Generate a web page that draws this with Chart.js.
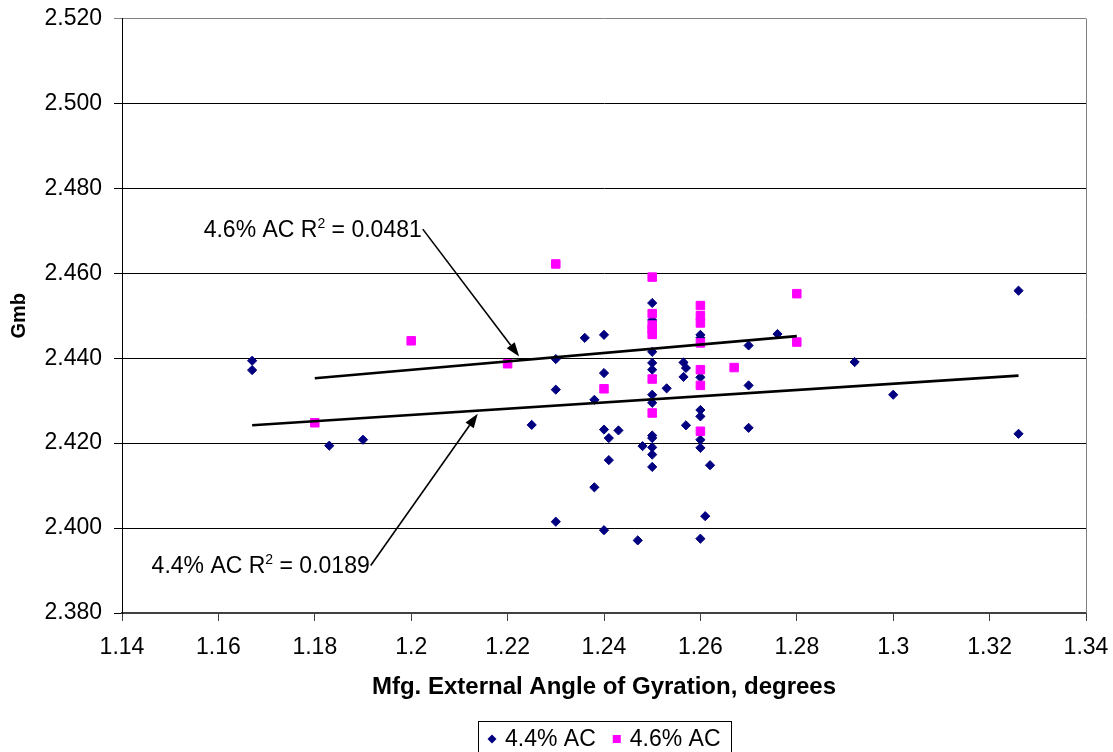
<!DOCTYPE html>
<html lang="en">
<head>
<meta charset="UTF-8">
<title>Gmb vs Mfg. External Angle of Gyration</title>
<script src="https://cdn.jsdelivr.net/npm/chart.js@4.4.1/dist/chart.umd.min.js"></script>
<style>
  html, body { margin: 0; padding: 0; background: #fff; }
</style>
</head>
<body>
<canvas id="chart" width="1113" height="752"></canvas>
<script>
// 4.4% AC specimens: external angle (deg) and Gmb
const angle44 = [1.167, 1.167, 1.183, 1.190, 1.225, 1.230, 1.230, 1.230, 1.236, 1.238,
                 1.238, 1.240, 1.240, 1.240, 1.240, 1.241, 1.241, 1.243, 1.247, 1.248,
                 1.250, 1.250, 1.250, 1.250, 1.250, 1.250, 1.250, 1.250, 1.250, 1.250,
                 1.250, 1.250, 1.253, 1.2565, 1.257, 1.2565, 1.257, 1.260, 1.260, 1.260,
                 1.260, 1.260, 1.260, 1.260, 1.260, 1.261, 1.262, 1.270, 1.270, 1.270,
                 1.276, 1.292, 1.300, 1.326, 1.326];
const gmb44 = [2.4394, 2.4372, 2.4194, 2.4208, 2.4243, 2.4398, 2.4326, 2.4015, 2.4448, 2.4302,
               2.4096, 2.4455, 2.4365, 2.4232, 2.3995, 2.4212, 2.4160, 2.4230, 2.3971, 2.4193,
               2.4530, 2.4490, 2.4415, 2.4389, 2.4373, 2.4314, 2.4295, 2.4218, 2.4212, 2.4190,
               2.4173, 2.4144, 2.4329, 2.4390, 2.4377, 2.4356, 2.4242, 2.4455, 2.4448, 2.4355,
               2.4278, 2.4263, 2.4208, 2.4189, 2.3975, 2.4028, 2.4148, 2.4430, 2.4336, 2.4236,
               2.4457, 2.4391, 2.4314, 2.4559, 2.4222];

// 4.6% AC specimens
const angle46 = [1.18, 1.20, 1.22, 1.23, 1.24, 1.25, 1.25, 1.25, 1.25, 1.25, 1.25,
                 1.25, 1.26, 1.26, 1.26, 1.26, 1.26, 1.26, 1.26, 1.267, 1.28, 1.28];
const gmb46 = [2.4248, 2.4441, 2.4387, 2.4622, 2.4328, 2.4591, 2.4505, 2.4478, 2.4468, 2.4456, 2.4351,
               2.4271, 2.4524, 2.4500, 2.4483, 2.4436, 2.4373, 2.4336, 2.4228, 2.4378, 2.4552, 2.4438];

// linear trend lines, end points
const trend44X = [1.167, 1.326];
const trend44Y = [2.4242, 2.4359];
const trend46X = [1.18, 1.28];
const trend46Y = [2.4353, 2.4452];

// R² callouts: label, value, arrow start and arrow tip (data units)
const noteNames = ['4.6% AC', '4.4% AC'];
const noteR2 = ['0.0481', '0.0189'];
const noteFromX = [1.2024, 1.1916];
const noteFromY = [2.4704, 2.3912];
const noteToX = [1.2224, 1.2138];
const noteToY = [2.4404, 2.4269];

const FONT = '"Liberation Sans", Arial, sans-serif';
Chart.defaults.font.family = FONT;
Chart.defaults.color = '#000';

const toPoints = (xs, ys) => xs.map((x, i) => ({ x: x, y: ys[i] }));

// grey right edge of the plot area
const plotFrame = {
    id: 'plotFrame',
    beforeDatasetsDraw(chart) {
        const { ctx, chartArea: a } = chart;
        ctx.save();
        ctx.strokeStyle = '#808080';
        ctx.lineWidth = 1;
        ctx.beginPath();
        ctx.moveTo(Math.round(a.right) + 0.5, a.top);
        ctx.lineTo(Math.round(a.right) + 0.5, a.bottom);
        ctx.stroke();
        ctx.restore();
    }
};

// arrows and "R²" labels
const notes = {
    id: 'notes',
    afterDatasetsDraw(chart) {
        const { ctx, scales: { x, y } } = chart;
        ctx.save();
        ctx.fillStyle = '#000';
        ctx.strokeStyle = '#000';
        noteNames.forEach((name, i) => {
            const x0 = x.getPixelForValue(noteFromX[i]);
            const y0 = y.getPixelForValue(noteFromY[i]);
            const x1 = x.getPixelForValue(noteToX[i]);
            const y1 = y.getPixelForValue(noteToY[i]);
            const ang = Math.atan2(y1 - y0, x1 - x0);
            const head = 14, half = 5;
            const bx = x1 - head * Math.cos(ang);
            const by = y1 - head * Math.sin(ang);
            ctx.lineWidth = 1.6;
            ctx.beginPath();
            ctx.moveTo(x0, y0);
            ctx.lineTo(bx, by);
            ctx.stroke();
            ctx.beginPath();
            ctx.moveTo(x1, y1);
            ctx.lineTo(bx + half * Math.sin(ang), by - half * Math.cos(ang));
            ctx.lineTo(bx - half * Math.sin(ang), by + half * Math.cos(ang));
            ctx.closePath();
            ctx.fill();

            // text, right-aligned to the arrow start
            const a = name + ' R', b = '2', c = ' = ' + noteR2[i];
            ctx.textBaseline = 'alphabetic';
            ctx.textAlign = 'left';
            ctx.font = '23px ' + FONT;
            const wa = ctx.measureText(a).width, wc = ctx.measureText(c).width;
            ctx.font = '14px ' + FONT;
            const wb = ctx.measureText(b).width;
            const base = y0 + 8;
            let tx = x0 - 1 - (wa + wb + wc);
            ctx.font = '23px ' + FONT;
            ctx.fillText(a, tx, base);
            tx += wa;
            ctx.font = '14px ' + FONT;
            ctx.fillText(b, tx, base - 9);
            tx += wb;
            ctx.font = '23px ' + FONT;
            ctx.fillText(c, tx, base);
        });
        ctx.restore();
    }
};

// boxed legend below the axis title
const legendBox = {
    id: 'legendBox',
    afterDraw(chart) {
        const { ctx, chartArea: a } = chart;
        const items = chart.data.datasets.filter((d) => d.inLegend);
        ctx.save();
        ctx.font = '23px ' + FONT;
        const padL = 14, markToText = 13, gap = 21, padR = 10;
        const widths = items.map((d) => ctx.measureText(d.label).width);
        let total = padL + padR;
        widths.forEach((w, i) => { total += markToText + w + (i ? gap : 0); });
        const left = Math.round((a.left + a.right) / 2 - total / 2);
        const top = 721, markY = 739, baseY = 746;
        ctx.strokeStyle = '#000';
        ctx.lineWidth = 1;
        ctx.strokeRect(left + 0.5, top + 0.5, Math.round(total), 60);
        let cx = left + padL;
        items.forEach((d, i) => {
            ctx.fillStyle = d.backgroundColor;
            ctx.beginPath();
            if (d.pointStyle === 'rectRot') {
                ctx.moveTo(cx, markY - 4.5);
                ctx.lineTo(cx + 4.5, markY);
                ctx.lineTo(cx, markY + 4.5);
                ctx.lineTo(cx - 4.5, markY);
                ctx.closePath();
                ctx.fill();
            } else {
                ctx.fillRect(cx - 4, markY - 4, 8, 8);
            }
            ctx.fillStyle = '#000';
            ctx.textBaseline = 'alphabetic';
            ctx.fillText(d.label, cx + markToText, baseY);
            cx += markToText + widths[i] + gap;
        });
        ctx.restore();
    }
};

new Chart(document.getElementById('chart'), {
    type: 'scatter',
    data: {
        datasets: [
            {
                label: '4.4% AC',
                data: toPoints(angle44, gmb44),
                pointStyle: 'rectRot',
                pointRadius: 4.6,
                borderWidth: 1,
                backgroundColor: '#000080',
                borderColor: '#000080',
                inLegend: true,
                order: 2
            },
            {
                label: '4.6% AC',
                data: toPoints(angle46, gmb46),
                pointStyle: 'rect',
                pointRadius: 6,
                borderWidth: 1,
                backgroundColor: '#ff00ff',
                borderColor: '#ff00ff',
                inLegend: true,
                order: 1
            },
            {
                label: '4.4% AC trend',
                data: toPoints(trend44X, trend44Y),
                showLine: true,
                pointRadius: 0,
                borderColor: '#000',
                borderWidth: 2.6,
                order: 0
            },
            {
                label: '4.6% AC trend',
                data: toPoints(trend46X, trend46Y),
                showLine: true,
                pointRadius: 0,
                borderColor: '#000',
                borderWidth: 2.6,
                order: 0
            }
        ]
    },
    options: {
        responsive: false,
        animation: false,
        layout: { padding: { top: 18.5, right: 27, left: 0, bottom: 0 } },
        plugins: {
            legend: { display: false },
            tooltip: { enabled: false }
        },
        scales: {
            x: {
                type: 'linear',
                min: 1.14,
                max: 1.34,
                afterFit: (s) => {
                    s.height = 139;
                    s.paddingLeft = 0;
                    s.paddingRight = 0;
                },
                ticks: {
                    stepSize: 0.02,
                    padding: 13,
                    font: { size: 23 },
                    callback: (v) => String(Number(v.toFixed(2)))
                },
                grid: { drawOnChartArea: false, tickLength: 8, color: '#404040' },
                border: { color: '#404040', width: 2 },
                title: {
                    display: true,
                    text: 'Mfg. External Angle of Gyration, degrees',
                    font: { size: 24, weight: 'bold' },
                    padding: { top: 0, bottom: 50 }
                }
            },
            y: {
                min: 2.38,
                max: 2.52,
                afterFit: (s) => {
                    s.width = 122;
                    s.paddingTop = 0;
                    s.paddingBottom = 0;
                },
                ticks: {
                    stepSize: 0.02,
                    padding: 12,
                    font: { size: 23 },
                    callback: (v) => v.toFixed(3)
                },
                grid: {
                    tickLength: 8,
                    lineWidth: 1,
                    color: (c) => (c.tick && Math.abs(c.tick.value - 2.52) < 1e-6 ? '#808080' : '#000')
                },
                border: { color: '#000', width: 1 },
                title: {
                    display: true,
                    text: 'Gmb',
                    font: { size: 20, weight: 'bold' },
                    padding: { top: 7, bottom: 0 }
                }
            }
        }
    },
    plugins: [plotFrame, notes, legendBox]
});
</script>
</body>
</html>
